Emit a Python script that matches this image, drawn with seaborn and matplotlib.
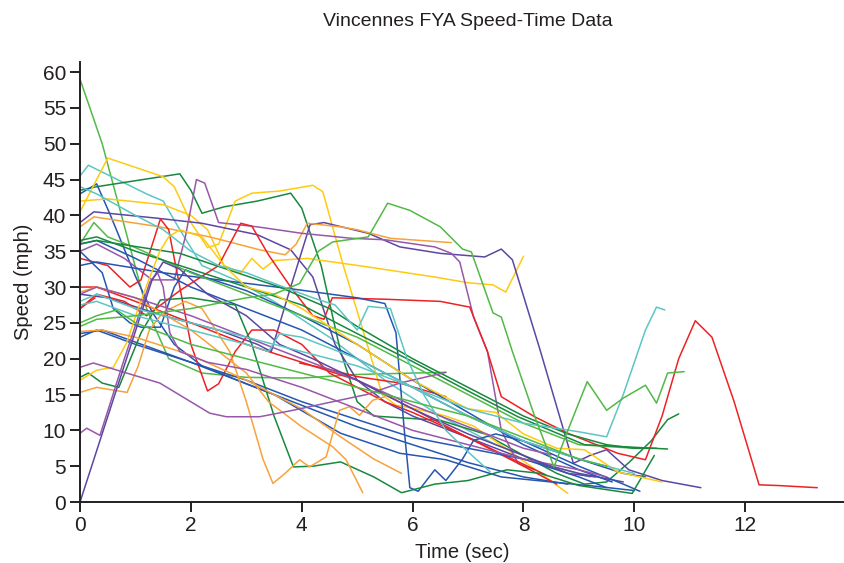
import matplotlib
matplotlib.use("Agg")
import matplotlib.pyplot as plt
import seaborn as sns
import pandas as pd

# ---- data: (time sec, speed mph) per vehicle trace ----
g59_t = [0, 0.4, 1.2, 1.6, 2.2, 3, 4, 5, 6, 6.6]
g59_v = [59, 50, 27, 20, 18, 17.4, 17.3, 17.8, 18, 18.1]

c47_t = [0, 0.15, 1.2, 1.5, 1.8, 2.2, 2.8, 3.5, 4.5, 5.5, 6.5, 7.5, 8.5, 9.2]
c47_v = [45.5, 47, 43, 42, 38, 33, 31, 28, 23, 17, 12, 8, 5, 3.5]

dg43_t = [0, 0.3, 1.8, 2.0, 2.2, 2.6, 3.2, 3.8, 4.0, 4.35, 4.7, 5.0, 5.3, 6.5, 7.3, 8.0, 8.6, 9.1, 9.5, 9.9, 10.3, 10.6, 10.8]
dg43_v = [43.5, 44, 45.8, 43.5, 40.3, 41.2, 42, 43.1, 41, 33, 21, 14, 12, 11.4, 9.5, 6.5, 4, 2.5, 2.8, 5.5, 8.5, 11.5, 12.3]

b43_t = [0, 0.3, 0.55, 1.0, 1.3, 1.7, 2.2, 3, 4, 5, 6, 7, 8, 8.8]
b43_v = [43, 44.4, 40, 31.5, 26.5, 22, 19, 16.5, 13.5, 10.5, 8, 5.5, 3.5, 2.5]

y48_t = [0, 0.5, 1.5, 1.7, 2.0, 2.3, 2.5, 2.8, 3.1, 3.6, 4.2, 4.38, 4.75, 5.2, 5.45, 5.7, 6.0, 6.6, 7.1, 7.9, 8.8]
y48_v = [40.5, 48, 45.4, 44, 39, 35.5, 36, 42, 43.1, 43.4, 44.2, 43.3, 33, 21.5, 15, 13.5, 13.1, 12, 10.6, 6.3, 1.2]

y42_t = [0, 0.5, 1.5, 2.0, 2.3, 2.6, 2.9, 3.1, 3.3, 3.5, 4.1, 5.2, 6.4, 7.0, 7.45, 7.68, 8.0]
y42_v = [42, 42.3, 41.5, 40, 38, 33, 32, 34, 32.5, 33.7, 34, 32.8, 31.4, 30.6, 30.3, 29.3, 34.3]

i41_t = [0, 0.25, 1.4, 2.2, 3.2, 3.8, 4.2, 4.6, 5.0, 5.5, 6, 7, 8, 9, 9.8]
i41_v = [39, 40.5, 39.6, 38.9, 37.3, 35.2, 31.4, 22, 17, 14, 12, 9, 6, 4, 2.8]

iv_t = [0, 0.5, 1.5, 2.5, 3.2, 3.45, 3.8, 4.15, 4.4, 5.2, 5.77, 6.5, 7.3, 7.6, 7.8, 8.3, 8.9, 9.2, 9.5, 9.9, 10.5, 11.2]
iv_v = [29, 28.5, 26, 24, 22, 21, 30, 38.7, 39, 37.5, 35.6, 34.7, 34.2, 35.3, 33.8, 21.2, 5.4, 6.5, 7.3, 4.5, 3, 2.0]

o39_t = [0, 0.25, 1.44, 2.34, 3.24, 3.7, 3.9, 4.1, 4.7, 5.0, 5.6, 6.7]
o39_v = [38.4, 39.8, 38.4, 37, 35.2, 34.5, 36, 38.9, 38.4, 38, 36.8, 36.2]

p45_t = [0, 0.3, 0.8, 1.3, 1.7, 1.9, 2.1, 2.25, 2.5, 3.2, 4.0, 4.9, 5.5, 6.4, 6.7, 6.85, 7.1, 7.35, 7.6, 7.9, 8.2]
p45_v = [35, 36, 34, 31, 31, 37, 45, 44.5, 39, 38.4, 37.5, 36.8, 36.6, 35.6, 34.7, 33.5, 25.8, 21, 10, 5.4, 4.5]

r34_t = [0, 0.5, 0.9, 1.1, 1.45, 1.6, 1.8, 2.0, 2.3, 2.5, 2.8, 3.1, 3.5, 4.0, 4.5, 5.0, 5.5, 6, 7, 7.8, 8.4]
r34_v = [34, 33, 30, 31, 39.5, 38, 30, 22, 15.5, 16.5, 21, 24, 24, 22, 18, 16, 14, 12.5, 9, 6, 3.8]

r27_t = [0, 0.3, 0.8, 1.2, 1.8, 2.5, 2.9, 3.1, 3.4, 3.8, 4.2, 4.4, 4.55, 5.5, 6.5, 7.03, 7.35, 7.6, 8.2, 8.8, 9.7, 10.2, 10.5, 10.8, 11.1, 11.4, 11.8, 12.25, 12.6, 13.3]
r27_v = [27, 29, 28, 26, 29.5, 33, 38.9, 38.5, 34.5, 30, 26, 25.5, 28.5, 28.3, 28, 27.2, 21, 14.7, 11.9, 9.6, 6.8, 5.9, 12, 20, 25.3, 23, 14, 2.4, 2.3, 2.0]

r30_t = [0, 0.3, 1, 2, 3, 4, 5, 6, 7, 8, 8.6]
r30_v = [30, 30, 28, 25, 22, 19.5, 17, 13, 9, 5, 2.5]

r19_t = [3.96, 4.5, 5.0, 5.77, 6.6]
r19_v = [19.4, 18.5, 17.5, 16.6, 14.7]

rstub_t = [0, 0.27]
rstub_v = [27, 28.5]

b36_t = [0, 0.3, 1, 2, 3, 4, 5, 6, 7, 8, 9, 9.8, 10.1]
b36_v = [36, 36.5, 34, 30, 27, 24, 20, 16, 12, 8.5, 5, 2.5, 1.5]

b33_t = [0, 0.3, 1.5, 2.5, 3.96, 5.0, 5.5, 5.7, 5.85, 5.95, 6.1, 6.4, 6.6, 6.9, 7.1, 7.5, 8, 9, 9.8, 10.2]
b33_v = [33, 33.5, 32, 31, 29.6, 28.5, 27.7, 23.6, 10, 2, 1.5, 4.5, 3, 6, 8.6, 9.5, 8.5, 6, 4, 3.5]

b35_t = [0, 0.4, 0.6, 0.9, 1.1, 1.45, 1.7, 1.9, 2.2, 3, 4, 5, 6, 7, 8, 9, 9.6]
b35_v = [35, 32, 27, 25, 24.4, 24.4, 30, 32.4, 31.5, 29.5, 26, 22, 17, 12.5, 8, 4.5, 2.8]

b23_t = [0, 0.3, 1, 2, 3, 4, 5, 6, 7, 8, 9, 9.5]
b23_v = [23, 24, 22, 19.5, 17, 14, 11.5, 9, 7.5, 6, 3.5, 2]

b24_t = [0, 0.4, 2, 3.5, 4.7, 5.77, 6.6, 7.6, 8.5, 9.3, 10.0]
b24_v = [23.5, 24, 19.5, 15, 9.6, 6.8, 5.9, 3.5, 2.8, 2.2, 1.6]

g36_t = [0, 0.25, 0.5, 1, 2, 3, 4, 5, 6, 7, 8, 9, 10, 10.2]
g36_v = [36, 39, 37, 35.5, 32, 29, 26, 23, 19, 15, 11, 8, 7.5, 7.5]

dg36_t = [0, 0.3, 1, 2, 3, 4, 5, 6, 7, 7.9, 9.1, 10.6]
dg36_v = [36.5, 37, 35, 32.5, 30, 27.5, 23.5, 19.6, 15.5, 11.9, 8, 7.4]

dg36b_t = [0, 0.3, 1.8, 3.6, 4.5, 5, 6, 7, 8, 8.8, 9.5, 10, 10.4]
dg36b_v = [36, 36.5, 34.7, 30, 27, 24.5, 20, 16, 12, 9.5, 8, 7.5, 7.5]

dg17_t = [0, 0.15, 0.4, 0.7, 1.1, 1.45, 2.0, 2.8, 3.1, 3.5, 3.85, 4.2, 4.7, 5.3, 5.8, 6.4, 7.0, 7.7, 8.3, 9.0, 9.96, 10.36]
dg17_v = [17.4, 18, 16.6, 16, 23.6, 28.2, 28.5, 27.5, 22, 12, 4.9, 5, 5.6, 3.5, 1.3, 2.5, 3.0, 4.5, 4.0, 2.3, 1.2, 6.5]

y17_t = [0, 0.3, 0.6, 0.84, 1.08, 1.26, 1.44, 1.6, 1.8, 2.2, 2.6, 3, 3.5, 4, 5, 6, 6.5, 7, 7.5, 8, 8.6, 9.1, 9.7, 10.5]
y17_v = [17, 18.4, 18.8, 22.2, 27.7, 31.4, 35, 37, 38, 37, 33, 30, 29, 27, 22, 17, 15, 13, 12.5, 9.5, 7.5, 7.3, 4.2, 2.8]

o15_t = [0, 0.3, 0.85, 1.05, 1.25, 1.5, 1.9, 2.2, 2.7, 3.0, 3.3, 3.48, 3.7, 3.96, 4.14, 4.44, 4.68, 4.86, 5.04, 5.28, 5.5]
o15_v = [15.3, 16, 15.3, 19, 24, 26.5, 28, 27, 21, 14, 6, 2.6, 4, 5.9, 4.9, 6.3, 12.8, 13.3, 12.1, 14.2, 14.7]

o23_t = [0, 0.4, 1, 2, 3, 4, 4.7, 5.3, 5.8]
o23_v = [23.8, 24, 23, 20.5, 17, 13, 9.1, 6, 4]

o29_t = [0, 0.3, 1, 2, 2.5, 3, 3.4, 4, 4.56, 4.8, 5.1]
o29_v = [29.3, 30, 28.5, 24, 21, 18, 14, 10.5, 7.7, 5.9, 1.3]

p19_t = [0, 0.24, 0.84, 1.44, 2.34, 2.64, 3.24, 3.84, 4.68, 5.17, 5.77, 6.6]
p19_v = [18.8, 19.4, 18, 16.6, 12.4, 11.9, 11.9, 12.8, 14.2, 15, 16.6, 18.1]

p10_t = [0, 0.12, 0.36, 0.8, 1.26, 1.4, 1.5, 1.62, 1.8, 2.3, 3, 4, 5, 6, 7, 8, 9, 9.5]
p10_v = [9.6, 10.3, 9.3, 20, 30.7, 32, 30, 23.6, 21, 19.5, 18.5, 16, 13, 10, 8, 6, 4.5, 3.5]

p29_t = [0, 0.3, 1, 2, 3, 4, 5, 6, 7, 8, 8.5]
p29_v = [29, 30, 28.5, 26, 23, 20, 17, 13.5, 10.5, 7.5, 6.6]

i0_t = [0, 1.3, 1.5, 1.8, 2.3, 3, 3.6, 4.2, 5, 6, 7, 8, 8.8, 9.3]
i0_v = [0, 31, 33.5, 32.5, 29, 26, 22, 20, 17, 13, 9.5, 6.5, 4, 3.5]

c44_t = [0, 0.3, 1, 1.5, 2, 2.5, 3, 3.5, 4.2, 4.6, 5.0, 5.2, 5.6, 5.9, 6.2, 6.6, 7, 7.4]
c44_v = [44, 43, 40, 38, 35, 33, 32, 30.5, 28.5, 27.5, 24, 27.3, 27, 20, 15, 10, 7, 4.2]

c28_t = [0, 0.3, 1, 2, 3, 4, 5, 6, 7, 8, 9, 9.5, 9.8, 10.2, 10.4, 10.55]
c28_v = [28, 29, 27, 25, 23, 21, 19, 16, 13, 11, 9.8, 9.1, 15, 24, 27.2, 26.8]

c27_t = [0, 0.3, 1, 2, 3, 3.4, 3.6, 4, 5, 6, 7, 8, 9, 10]
c27_v = [27.5, 28, 26, 24, 22, 21, 23.5, 23, 20, 16, 12, 8.5, 6, 4]

g42_t = [0, 0.3, 1, 2, 3, 3.5, 3.96, 4.3, 4.56, 5.2, 5.55, 5.95, 6.5, 6.9, 7.06, 7.45, 7.6, 7.8, 8.2, 8.55, 8.8, 9.15, 9.5, 9.8, 10.2, 10.4, 10.6, 10.9]
g42_v = [24.5, 25.5, 26, 27, 28.5, 29, 30.5, 35, 36.3, 37, 41.7, 40.7, 38.4, 35.3, 34.9, 26.4, 25.8, 21, 12, 4.9, 10, 16.8, 12.8, 14.5, 16.3, 13.8, 18, 18.2]

g25_t = [0, 0.3, 0.66, 1, 2, 3, 4, 5, 6, 7, 8, 9, 9.5]
g25_v = [25, 26, 26.8, 25, 22, 20, 18, 16, 14, 12, 9, 6, 5]

traces = [
    ("g59", "#52b947", g59_t, g59_v), ("c47", "#5cc6c4", c47_t, c47_v),
    ("dg43", "#17893f", dg43_t, dg43_v), ("b43", "#2656b0", b43_t, b43_v),
    ("y48", "#fdcb12", y48_t, y48_v), ("y42", "#fdcb12", y42_t, y42_v),
    ("i41", "#5c47a1", i41_t, i41_v), ("iv", "#5c47a1", iv_t, iv_v),
    ("o39", "#f8a23a", o39_t, o39_v), ("p45", "#9857a8", p45_t, p45_v),
    ("r34", "#ed2224", r34_t, r34_v), ("r27", "#ed2224", r27_t, r27_v),
    ("r30", "#ed2224", r30_t, r30_v), ("r19", "#ed2224", r19_t, r19_v),
    ("rstub", "#ed2224", rstub_t, rstub_v), ("b36", "#2656b0", b36_t, b36_v),
    ("b33", "#2656b0", b33_t, b33_v), ("b35", "#2656b0", b35_t, b35_v),
    ("b23", "#2656b0", b23_t, b23_v), ("b24", "#2656b0", b24_t, b24_v),
    ("g36", "#52b947", g36_t, g36_v), ("dg36", "#17893f", dg36_t, dg36_v),
    ("dg36b", "#17893f", dg36b_t, dg36b_v), ("dg17", "#17893f", dg17_t, dg17_v),
    ("y17", "#fdcb12", y17_t, y17_v), ("o15", "#f8a23a", o15_t, o15_v),
    ("o23", "#f8a23a", o23_t, o23_v), ("o29", "#f8a23a", o29_t, o29_v),
    ("p19", "#9857a8", p19_t, p19_v), ("p10", "#9857a8", p10_t, p10_v),
    ("p29", "#9857a8", p29_t, p29_v), ("i0", "#5c47a1", i0_t, i0_v),
    ("c44", "#5cc6c4", c44_t, c44_v), ("c28", "#5cc6c4", c28_t, c28_v),
    ("c27", "#5cc6c4", c27_t, c27_v), ("g42", "#52b947", g42_t, g42_v),
    ("g25", "#52b947", g25_t, g25_v),
]

rows = []
for name, col, ts, vs in traces:
    for t, v in zip(ts, vs):
        rows.append({"id": name, "t": t, "v": v})
df = pd.DataFrame(rows)
palette = {name: col for name, col, _, _ in traces}

sns.set_style("ticks")
plt.rcParams["font.family"] = ["Liberation Sans", "DejaVu Sans"]

fig = plt.figure(figsize=(8.45, 5.63), dpi=100)
ax = fig.add_axes([0.0947, 0.1083, 0.9053, 0.7815])
sns.lineplot(data=df, x="t", y="v", hue="id", palette=palette, estimator=None,
             sort=False, legend=False, linewidth=1.1, ax=ax)

ax.set_xlim(0, 13.8)
ax.set_ylim(0, 61.4)
ax.set_xticks(range(0, 13, 2))
ax.set_yticks(range(0, 61, 5))
for s in ["top", "right"]:
    ax.spines[s].set_visible(False)
for s in ["left", "bottom"]:
    ax.spines[s].set_linewidth(1.4)
    ax.spines[s].set_color("#231f20")
ax.tick_params(axis="both", length=7, width=1.4, color="#231f20",
               labelsize=15, labelcolor="#231f20", pad=3)
ax.set_xlabel("Time (sec)", fontsize=14.5, color="#231f20", labelpad=6)
ax.set_ylabel("Speed (mph)", fontsize=14.5, color="#231f20", labelpad=7)
fig.text(0.554, 0.962, "Vincennes FYA Speed-Time Data", ha="center", va="center",
         fontsize=14, color="#231f20")

fig.savefig("out.png", dpi=100)
